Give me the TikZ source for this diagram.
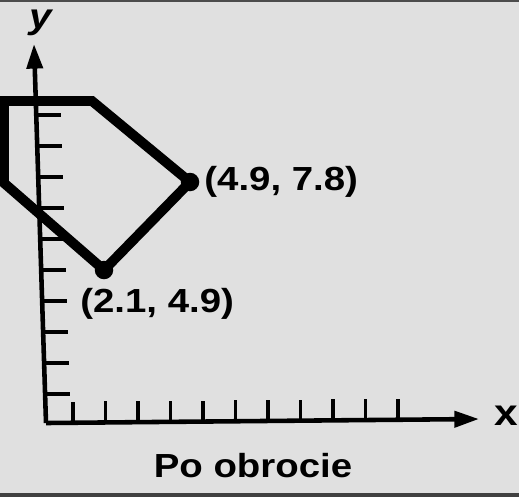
\documentclass[tikz,border=0pt]{standalone}
\usepackage{fontspec}
\newfontfamily\lblfont[FakeStretch=1.15]{Liberation Sans}
\usetikzlibrary{positioning, arrows.meta, calc}

\begin{document}
\begin{tikzpicture}[
    x=0.02cm, y=-0.02cm,
    % one pixel of the photo is one unit
    axis/.style={line width=2.6pt, -{Triangle[length=14pt, width=9pt]}},
    tick/.style={line width=2pt},
    outline/.style={line width=5.6pt, line join=miter},
    dot/.style={circle, fill=black, inner sep=0pt, minimum size=0.37cm},
    lbl/.style={font=\lblfont\bfseries\fontsize{19}{19}\selectfont, inner sep=0pt}
]
    \fill[black!12] (0,0) rectangle (519,497);
    \useasboundingbox (0,0) rectangle (519,497);
    \fill[black!70] (0,0) rectangle (519,2);
    \fill[black!75] (0,493) rectangle (519,497);

    % axes
    \coordinate (O) at (46,423);
    \coordinate (ytip) at (34,44);
    \coordinate (xtip) at (479,419);
    \draw[axis] (O) -- (ytip);
    \draw[axis] (O) -- (xtip);
    \node[lbl, font=\lblfont\bfseries\itshape\fontsize{20}{20}\selectfont] (ylab) at (41,23) {y};
    \node[lbl, font=\lblfont\bfseries\fontsize{21}{21}\selectfont] (xlab) at (506,416) {x};

    \foreach \y in {115,146,177,208,239,270,301,332,363,394}
        \draw[tick] ($(O)!{(423-\y)/379}!(ytip)$) -- ++(25,0);
    \foreach \x in {73,105.5,138,170.5,203,235.5,268,300.5,333,365.5,398}
        \draw[tick] ($(O)!{(\x-46)/433}!(xtip)$) -- ++(0,-21);

    % rotated figure
    \coordinate (p1) at (4,101);
    \coordinate (p2) at (92,101);
    \node[dot] (a) at (190,182) {};
    \node[dot] (b) at (104,270) {};
    \coordinate (p5) at (4,183);
    \draw[outline] (p1) -- (p2) -- (a.center) -- (b.center) -- (p5) -- cycle;

    \node[lbl, right=8pt of a.center, anchor=west] (alab) {(4.9, 7.8)};
    \node[lbl, anchor=north west] (blab) at (80,288) {(2.1, 4.9)};

    \node[lbl] (title) at (253,466) {Po obrocie};
\end{tikzpicture}
\end{document}
